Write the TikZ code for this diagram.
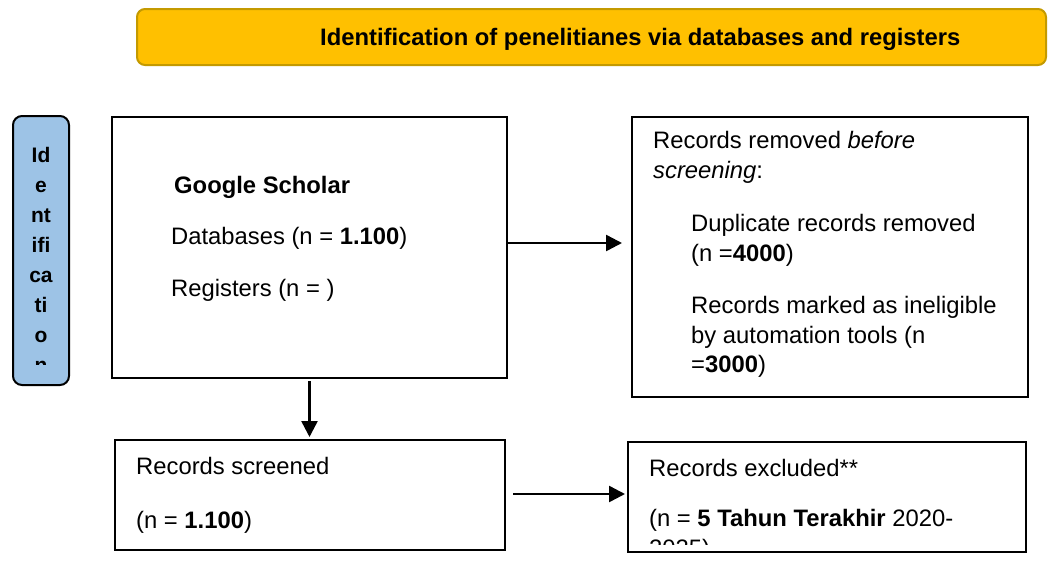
\documentclass[tikz,border=0pt]{standalone}
\usepackage{fontspec}
\setmainfont{Liberation Sans}
\usetikzlibrary{arrows.meta}
\definecolor{bannerfill}{HTML}{FFC000}
\definecolor{bannerline}{HTML}{C49A00}
\definecolor{sidefill}{HTML}{9DC3E6}
\tikzset{
  box/.style={draw, line width=2pt, inner sep=0pt},
  txt/.style={anchor=base west, inner sep=0pt, font=\fontsize{23.8}{28}\selectfont},
  sidetxt/.style={anchor=base, inner sep=0pt, font=\fontsize{21}{24}\selectfont\bfseries},
  arr/.style={line width=2.5pt, -{Triangle[length=16pt,width=16pt]}}
}
\begin{document}
\begin{tikzpicture}[x=1pt,y=-1pt]
\useasboundingbox (0,0) rectangle (1048,562);

% banner and side label
\node[box, draw=bannerline, fill=bannerfill, rounded corners=8pt,
  minimum width=909pt, minimum height=56pt] (banner) at (591.5,37) {};
\node[txt, font=\fontsize{23.8}{28}\selectfont\bfseries] (title) at (320,45.5)
  {Identification of penelitianes via databases and registers};
\node[box, fill=sidefill, rounded corners=9pt,
  minimum width=56pt, minimum height=269pt] (side) at (41,250.5) {};
\begin{scope}
\clip (14,120) rectangle (68,364);
\foreach \s [count=\i] in {Id,e,nt,ifi,ca,ti,o,n}
  \node[sidetxt] (side-\i) at (41,132+30*\i) {\s};
\end{scope}

% boxes
\node[box, minimum width=395pt, minimum height=261pt] (gs) at (309.5,247.5) {};
\node[box, minimum width=396pt, minimum height=280pt] (removed) at (830,257) {};
\node[box, minimum width=390pt, minimum height=110pt] (screened) at (310,495) {};
\node[box, minimum width=398pt, minimum height=110pt] (excluded) at (827,497) {};

% text in the boxes
\node[txt, font=\fontsize{23.8}{28}\selectfont\bfseries] (gs-1) at (174,193) {Google Scholar};
\node[txt] (gs-2) at (171,244) {Databases (n = \textbf{1.100})};
\node[txt] (gs-3) at (171,296) {Registers (n = )};

\node[txt] (rm-1) at (653,148) {Records removed \textit{before}};
\node[txt] (rm-2) at (653,178) {\textit{screening}:};
\node[txt] (rm-3) at (691,231) {Duplicate records removed};
\node[txt] (rm-4) at (691,261) {(n =\textbf{4000})};
\node[txt] (rm-5) at (691,313) {Records marked as ineligible};
\node[txt] (rm-6) at (691,343) {by automation tools (n};
\node[txt] (rm-7) at (691,372) {=\textbf{3000})};

\node[txt] (sc-1) at (136,474) {Records screened};
\node[txt] (sc-2) at (136,528) {(n = \textbf{1.100})};

\node[txt] (ex-1) at (649,476) {Records excluded**};
\begin{scope}
\clip (630,444) rectangle (1024,544);
\node[txt] (ex-2) at (649,526) {(n = \textbf{5 Tahun Terakhir} 2020-};
\node[txt] (ex-3) at (649,556) {2025)};
\end{scope}

% connectors
\coordinate (a1) at ([yshift=4.5pt]gs.east);
\draw[arr, shorten >=9pt] (a1) -- (a1 -| removed.west);
\draw[arr, shorten <=2pt, shorten >=2pt] (gs.south) -- (gs.south |- screened.north);
\coordinate (a2) at ([yshift=1pt]screened.east);
\draw[arr, shorten <=7pt, shorten >=2pt] (a2) -- (a2 -| excluded.west);
\end{tikzpicture}
\end{document}
